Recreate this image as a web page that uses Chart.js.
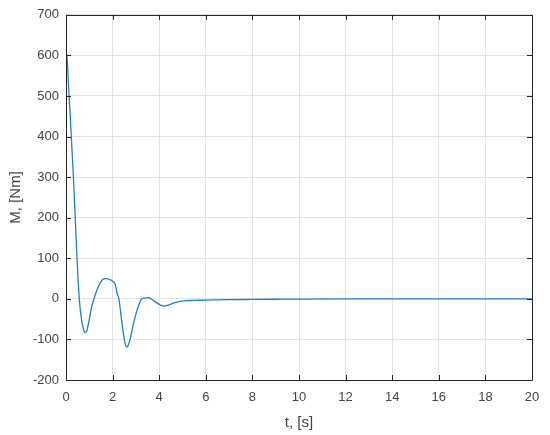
<!DOCTYPE html>
<html>
<head>
<meta charset="utf-8">
<script src="https://cdn.jsdelivr.net/npm/chart.js@4.4.1/dist/chart.umd.min.js"></script>
<style>
  html, body { margin: 0; padding: 0; background: #fff; }
  #wrap { width: 550px; height: 435px; }
</style>
</head>
<body>
<div id="wrap"><canvas id="chart" width="550" height="435"></canvas></div>
<script>
// values
const timeS = [0, 0.03, 0.1, 0.2, 0.3, 0.39, 0.46, 0.52, 0.57, 0.65, 0.75, 0.82, 0.9, 1.0, 1.1, 1.2,
  1.35, 1.5, 1.62, 1.75, 1.9, 2.05, 2.12, 2.2, 2.27, 2.35, 2.45, 2.55, 2.6, 2.65, 2.75, 2.9, 3.05,
  3.25, 3.4, 3.53, 3.7, 3.9, 4.05, 4.22, 4.45, 4.7, 5.0, 5.5, 6, 7, 8, 9, 10, 12, 14, 16, 18, 20];
const torqueNm = [570, 605, 535, 430, 320, 210, 115, 45, 0, -45, -75, -83, -78, -50, -20, 0,
  25, 42, 49, 50, 47, 41, 35, 12, 0, -35, -80, -113, -119, -117, -100, -60, -28,
  0, 2, 3, -2, -10, -15, -18, -14, -9, -5, -4, -3, -2, -1.5, -1, -0.5, 0, 0, 0, 0, 0];
const xTicks = { min: 0, max: 20, step: 2 };
const yTicks = { min: -200, max: 700, step: 100 };

const AXIS = '#262626';
const TEXT = '#444444';
const GRID = '#e3e3e3';
const FONT = 'Liberation Sans, Arial, Helvetica, sans-serif';

// MATLAB style box with inward ticks
const boxPlugin = {
  id: 'box',
  afterDraw(chart) {
    const { ctx, chartArea: a, scales: { x, y } } = chart;
    const len = 5;
    ctx.save();
    ctx.strokeStyle = AXIS;
    ctx.lineWidth = 1;
    ctx.beginPath();
    ctx.rect(Math.round(a.left) + 0.5, Math.round(a.top) + 0.5,
      Math.round(a.right - a.left), Math.round(a.bottom - a.top));
    x.ticks.forEach(t => {
      const px = Math.round(x.getPixelForValue(t.value)) + 0.5;
      ctx.moveTo(px, a.bottom); ctx.lineTo(px, a.bottom - len);
      ctx.moveTo(px, a.top); ctx.lineTo(px, a.top + len);
    });
    y.ticks.forEach(t => {
      const py = Math.round(y.getPixelForValue(t.value)) + 0.5;
      ctx.moveTo(a.left, py); ctx.lineTo(a.left + len, py);
      ctx.moveTo(a.right, py); ctx.lineTo(a.right - len, py);
    });
    ctx.stroke();
    ctx.restore();
  }
};

new Chart(document.getElementById('chart').getContext('2d'), {
  type: 'line',
  data: {
    datasets: [{
      data: timeS.map((t, i) => ({ x: t, y: torqueNm[i] })),
      borderColor: '#1f7fcf',
      borderWidth: 1.3,
      pointRadius: 0,
      fill: false,
      cubicInterpolationMode: 'monotone'
    }]
  },
  plugins: [boxPlugin],
  options: {
    responsive: false,
    animation: false,
    layout: { padding: { top: 14, right: 18, left: 0, bottom: 0 } },
    plugins: { legend: { display: false }, tooltip: { enabled: false } },
    scales: {
      x: {
        type: 'linear',
        min: xTicks.min, max: xTicks.max,
        ticks: { stepSize: xTicks.step, color: TEXT, padding: 10, maxRotation: 0,
                 font: { family: FONT, size: 13 } },
        grid: { color: GRID, drawTicks: false },
        border: { display: false },
        title: { display: true, text: 't, [s]', color: TEXT, padding: { top: 0, bottom: 3 },
                 font: { family: FONT, size: 15 } },
        afterFit(s) { s.height = 55; }
      },
      y: {
        type: 'linear',
        min: yTicks.min, max: yTicks.max,
        ticks: { stepSize: yTicks.step, color: TEXT, padding: 7,
                 font: { family: FONT, size: 13 } },
        grid: { color: GRID, drawTicks: false },
        border: { display: false },
        title: { display: true, text: 'M, [Nm]', color: TEXT, padding: { top: 7, bottom: 0 },
                 font: { family: FONT, size: 15 } },
        afterFit(s) { s.width = 66; }
      }
    }
  }
});
</script>
</body>
</html>
